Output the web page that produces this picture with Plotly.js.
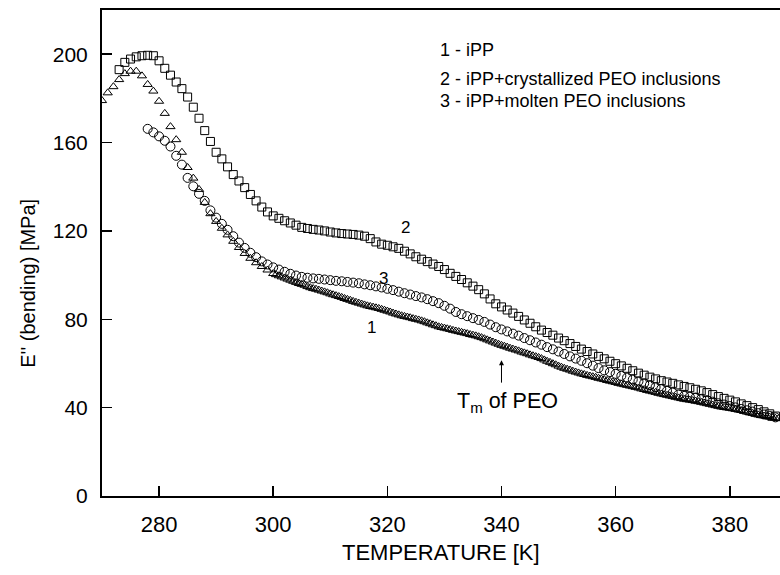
<!DOCTYPE html>
<html>
<head>
<meta charset="utf-8">
<script src="https://cdn.plot.ly/plotly-3.0.1.min.js"></script>
<style>html,body{margin:0;padding:0;background:#fff;}#chart{width:780px;height:575px;}</style>
</head>
<body>
<div id="chart"></div>
<script>
// Curve 1 - iPP (triangles)
const T1 = [270,271,272,273,274,275,276,277,278,279,280,281,282,283,284,285,286,287,288,289,290,291,292,293,294,295,296,297,298,299,
300,300.5,301,301.5,302,302.5,303,303.5,304,304.5,305,305.5,306,306.5,307,307.5,308,308.5,309,309.5,
310,310.5,311,311.5,312,312.5,313,313.5,314,314.5,315,315.5,316,316.5,317,317.5,318,318.5,319,319.5,
320,320.5,321,321.5,322,322.5,323,323.5,324,324.5,325,325.5,326,326.5,327,327.5,328,328.5,329,329.5,
330,330.5,331,331.5,332,332.5,333,333.5,334,334.5,335,335.5,336,336.5,337,337.5,338,338.5,339,339.5,
340,340.5,341,341.5,342,342.5,343,343.5,344,344.5,345,345.5,346,346.5,347,347.5,348,348.5,349,349.5,
350,350.5,351,351.5,352,352.5,353,353.5,354,354.5,355,355.5,356,356.5,357,357.5,358,358.5,359,359.5,
360,360.5,361,361.5,362,362.5,363,363.5,364,364.5,365,365.5,366,366.5,367,367.5,368,368.5,369,369.5,
370,370.5,371,371.5,372,372.5,373,373.5,374,374.5,375,375.5,376,376.5,377,377.5,378,378.5,379,379.5,
380,380.5,381,381.5,382,382.5,383,383.5,384,384.5,385,385.5,386,386.5,387,387.5,388,388.5];
const E1 = [179,182.5,185.3,188.5,191.2,192.3,192.3,190.2,186.3,183.3,178.7,173.2,167.2,161.3,155.6,148.7,143.9,138.8,132.9,127.8,124.3,121.2,118.2,115.3,112.5,109.8,107.6,105.6,103.9,102.3,
100.7,100.2,99.7,99.2,98.7,98.2,97.7,97.2,96.7,96.2,95.8,95.4,94.8,94.3,93.9,93.6,93.2,92.8,92.4,92.0,
91.5,91.1,90.7,90.3,89.9,89.4,89.0,88.6,88.1,87.7,87.3,86.9,86.5,86.1,85.8,85.5,85.2,84.9,84.5,84.1,
83.7,83.3,82.8,82.4,82.0,81.6,81.3,81.0,80.7,80.3,80.0,79.7,79.3,78.9,78.4,78.0,77.5,77.1,76.6,76.3,
76.0,75.7,75.4,75.0,74.7,74.4,74.1,73.8,73.5,73.1,72.8,72.5,72.1,71.7,71.2,70.7,70.2,69.7,69.2,68.7,
68.2,67.8,67.4,66.9,66.5,66.1,65.7,65.2,64.8,64.4,63.9,63.5,63.1,62.7,62.2,61.6,61.0,60.5,59.9,59.4,
58.8,58.3,57.8,57.4,57.0,56.5,56.1,55.7,55.3,55.0,54.6,54.3,54.0,53.7,53.3,53.0,52.7,52.3,52.0,51.7,
51.4,51.0,50.7,50.4,50.1,49.8,49.5,49.2,48.9,48.5,48.2,47.8,47.5,47.2,46.9,46.5,46.2,45.9,45.6,45.3,
45.0,44.7,44.4,44.1,43.8,43.6,43.4,43.2,42.9,42.7,42.4,42.1,41.8,41.5,41.2,40.9,40.6,40.3,40.1,39.9,
39.7,39.5,39.2,39.0,38.7,38.4,38.0,37.7,37.4,37.0,36.7,36.4,36.2,36.0,35.7,35.5,35.2,35.0];

// Curve 2 - iPP + crystallized PEO inclusions (squares)
const T2 = [273,274,275,276,277,278,279,280,281,282,283,284,285,286,287,288,289,290,291,292,293,294,295,296,297,298,299,
300,301,302,303,304,305,306,307,308,309,310,311,312,313,314,315,316,317,318,319,320,321,322,323,324,325,326,327,328,329,
330,331,332,333,334,335,336,337,338,339,340,341,342,343,344,345,346,347,348,349,350,351,352,353,354,355,356,357,358,359,
360,361,362,363,364,365,366,367,368,369,370,371,372,373,374,375,376,377,378,379,380,381,382,383,384,385,386,387,388];
const E2 = [193,196.3,197.8,198.8,199.3,199.5,199.3,197,193.6,190.5,187.4,184.4,180.6,176,171,165.4,160.5,155.6,152.6,149,145.5,142.6,139.6,136.5,133.6,130.8,128.6,
126.8,125.7,124.6,123.6,122.6,121.6,121.1,120.7,120.4,120,119.5,119.1,118.8,118.6,118.4,118.1,117.6,116.5,115,114,113.5,112.8,112.1,110.8,109.6,108.3,107.2,106.1,105,103.9,
102.5,100.8,99.4,98,96.5,95,93.4,91.5,89.2,87,85.6,84.2,82.8,81.3,79.7,78.2,76.6,75.1,74,72.8,71.5,70.3,69,67.7,66.5,65.4,64.3,63.2,62.1,61,
59.9,58.9,57.8,56.7,55.6,54.7,53.8,53,52.2,51.6,51,50.3,49.6,49,48.3,47.6,46.8,45.9,45,44.2,43.4,42.6,41.7,40.9,40,39.1,38.1,37.2,36.2];

// Curve 3 - iPP + molten PEO inclusions (circles)
const T3 = [278,279,280,281,282,283,284,285,286,287,288,289,290,291,292,293,294,295,296,297,298,299,
300,301,302,303,304,305,306,307,308,309,310,311,312,313,314,315,316,317,318,319,320,321,322,323,324,325,326,327,328,329,
330,331,332,333,334,335,336,337,338,339,340,341,342,343,344,345,346,347,348,349,350,351,352,353,354,355,356,357,358,359,
360,361,362,363,364,365,366,367,368,369,370,371,372,373,374,375,376,377,378,379,380,381,382,383,384,385,386,387,388];
const E3 = [166.2,164.6,162.8,160.8,158.2,154,150,144,140.2,136.8,133.6,129.3,126,123.2,120.5,117.6,114.7,112.3,110.1,108.1,106.2,104.8,
103.5,102.5,101.5,100.6,99.8,99.2,98.8,98.5,98.3,98,97.7,97.4,97.2,96.9,96.6,96.3,95.8,95.4,94.9,94.4,93.8,93.2,92.5,91.8,91.2,90.5,89.9,89.1,88.2,87.3,
86.1,84.8,83.3,82.3,81.4,80.5,79.7,78.8,77.6,76.4,75.4,74.5,73.5,72.6,71.5,70.5,69.5,68.5,67.4,66.4,65.4,64.3,63.2,62.2,61.2,60.1,59,57.9,56.9,56.1,
55.3,54.4,53.6,52.7,51.9,51,50.2,49.3,48.5,47.6,46.8,45.9,45.3,44.9,44.5,44,43.4,42.7,42,41.4,40.7,40.1,39.4,38.8,38.2,37.5,36.9,36.2,35.6];

const xTicks = [280,300,320,340,360,380];
const yTicks = [0,40,80,120,160,200];
const legendLines = ['1 - iPP','2 - iPP+crystallized PEO inclusions','3 - iPP+molten PEO inclusions'];
const curveLabels = ['1','2','3'];
const curveLabelPos = [[317.3,76.4],[323.1,121.6],[319.4,98.6]];

const FONT = 'Liberation Sans, Arial, sans-serif';
const mk = (sym, size) => ({symbol: sym, size: size, color: '#000', line: {color: '#000', width: 1}});

const traces = [
  {x: T1, y: E1, mode: 'markers', type: 'scatter', marker: mk('triangle-up-open', 8), name: legendLines[0]},
  {x: T2, y: E2, mode: 'markers', type: 'scatter', marker: mk('square-open', 8), name: legendLines[1]},
  {x: T3, y: E3, mode: 'markers', type: 'scatter', marker: mk('circle-open', 9), name: legendLines[2]}
];

const annotations = [];
const legY = [0.918, 0.857, 0.812];
legendLines.forEach((t, i) => annotations.push({
  text: t, xref: 'paper', yref: 'paper', x: 0.4956, y: legY[i], xanchor: 'left', yanchor: 'middle',
  showarrow: false, font: {family: FONT, size: 18, color: '#000'}
}));
curveLabels.forEach((t, i) => annotations.push({
  text: t, xref: 'x', yref: 'y', x: curveLabelPos[i][0], y: curveLabelPos[i][1], xanchor: 'center', yanchor: 'middle',
  showarrow: false, font: {family: FONT, size: 17, color: '#000'}
}));
// T_m arrow
annotations.push({text: '', xref: 'x', yref: 'y', x: 340, y: 61.5, ax: 0, ay: 24, showarrow: true,
  arrowhead: 2, arrowsize: 1, arrowwidth: 1, arrowcolor: '#000'});
annotations.push({text: 'T<sub>m</sub> of PEO', xref: 'x', yref: 'y', x: 331.8, y: 42.5, xanchor: 'left', yanchor: 'middle',
  showarrow: false, font: {family: FONT, size: 21.5, color: '#000'}});
// axis titles
annotations.push({text: 'E\'\' (bending) [MPa]', xref: 'paper', yref: 'paper', x: -0.109, y: 0.437, textangle: -90,
  xanchor: 'center', yanchor: 'middle', showarrow: false, font: {family: FONT, size: 20, color: '#000'}});
annotations.push({text: 'TEMPERATURE [K]', xref: 'paper', yref: 'paper', x: 0.5, y: -0.117,
  xanchor: 'center', yanchor: 'middle', showarrow: false, font: {family: FONT, size: 22, color: '#000'}});

const layout = {
  width: 780, height: 575,
  margin: {l: 102, r: 0, t: 10, b: 79},
  paper_bgcolor: '#fff', plot_bgcolor: '#fff',
  showlegend: false,
  font: {family: FONT, color: '#000'},
  xaxis: {range: [270, 388.8], tickvals: xTicks, ticktext: xTicks.map(String), ticks: 'inside', ticklen: 10, tickwidth: 1.5,
    tickcolor: '#000', showline: true, linewidth: 2, linecolor: '#000', mirror: true, showgrid: false, zeroline: false,
    tickfont: {family: FONT, size: 22, color: '#000'}, ticklabelstandoff: 8},
  yaxis: {range: [0, 220], tickvals: yTicks, ticktext: yTicks.map(String), ticks: 'inside', ticklen: 10, tickwidth: 1.5,
    tickcolor: '#000', showline: true, linewidth: 2, linecolor: '#000', showgrid: false, zeroline: false,
    tickfont: {family: FONT, size: 21, color: '#000'}, ticklabelstandoff: 8},
  annotations: annotations
};

Plotly.newPlot('chart', traces, layout, {displayModeBar: false, staticPlot: true});
</script>
</body>
</html>
